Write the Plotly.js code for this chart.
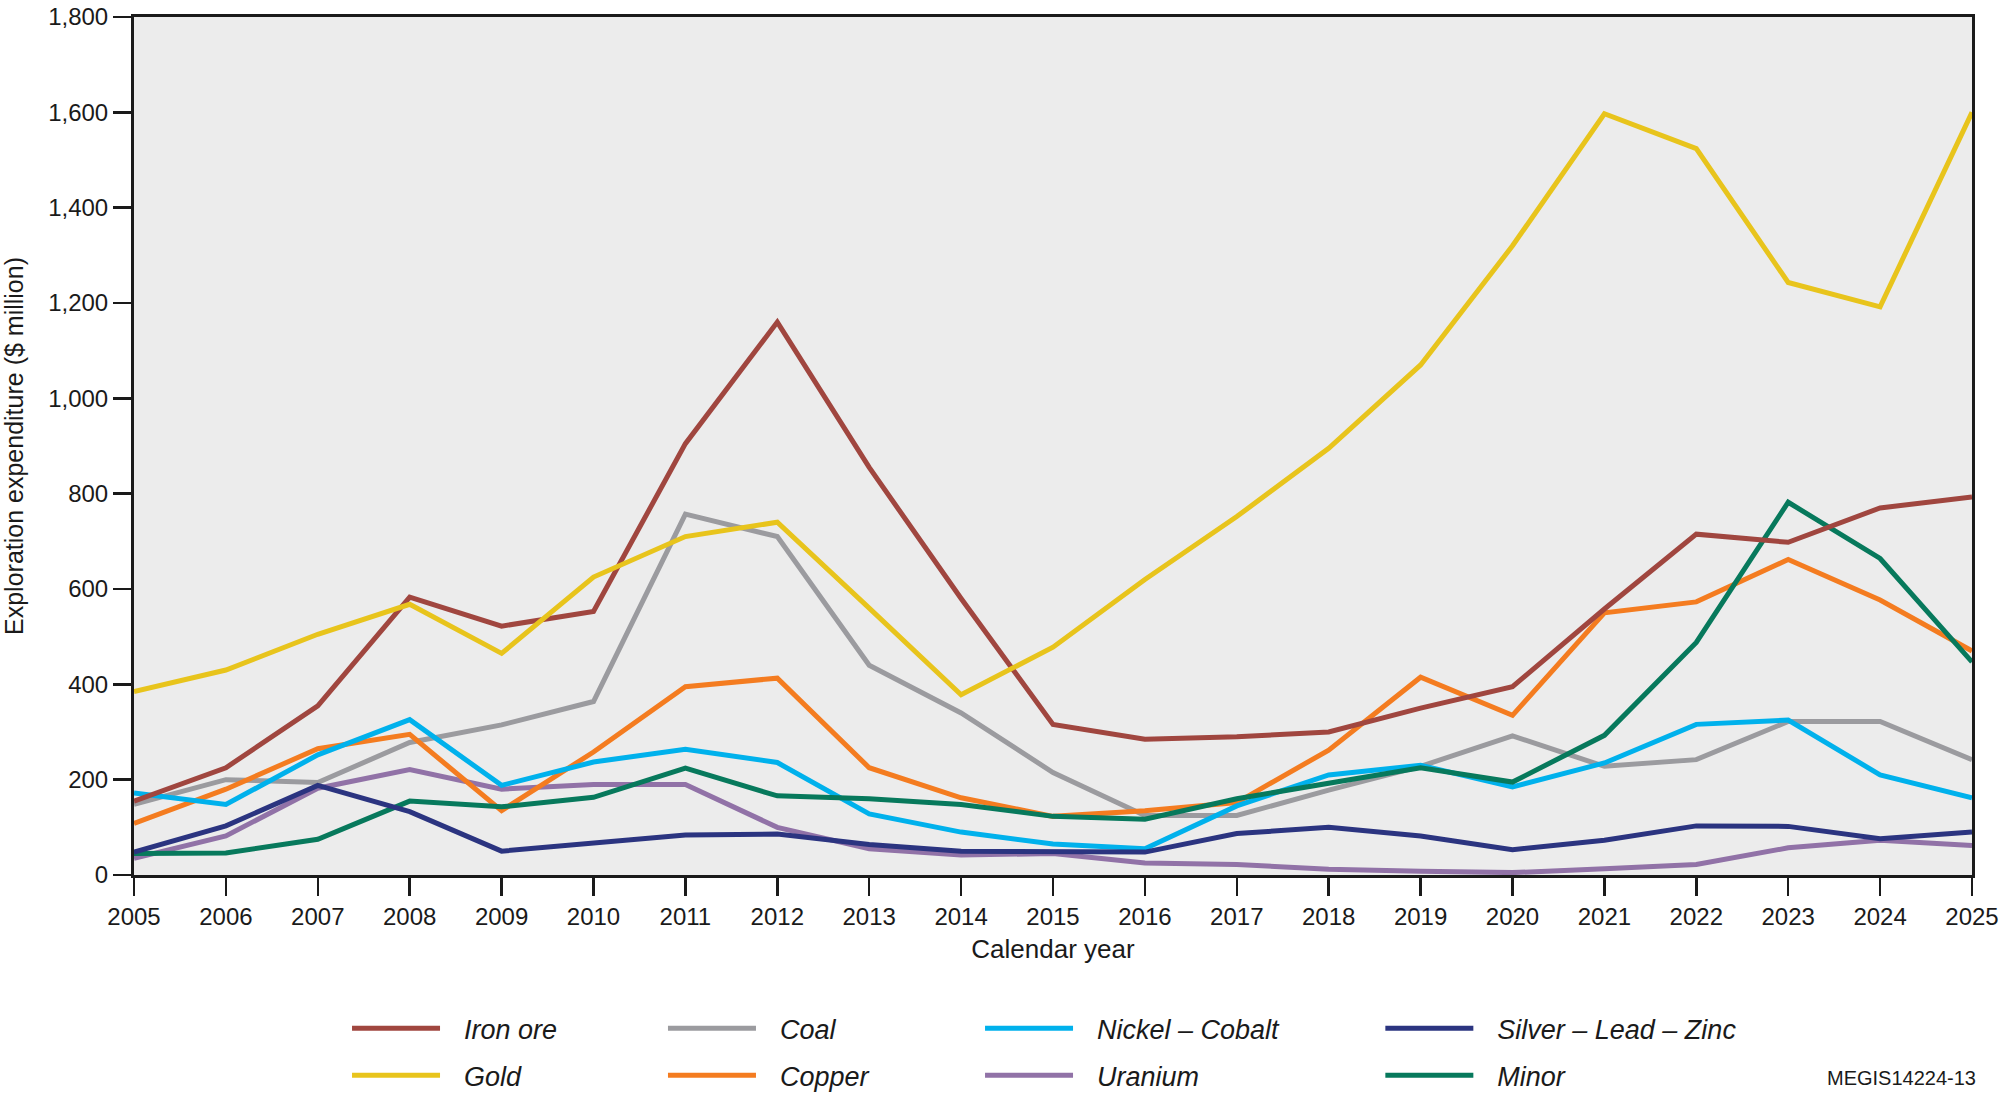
<!DOCTYPE html>
<html>
<head>
<meta charset="utf-8">
<script src="https://cdn.plot.ly/plotly-3.0.1.min.js"></script>
<style>html,body{margin:0;padding:0;background:#fff}#chart{width:2000px;height:1112px}</style>
</head>
<body>
<div id="chart"></div>
<script>
const years = [2005,2006,2007,2008,2009,2010,2011,2012,2013,2014,2015,2016,2017,2018,2019,2020,2021,2022,2023,2024,2025];

const ironOre = [155,225,355,583,522,553,905,1160,855,580,316,285,290,300,350,395,558,715,698,770,793];
const gold    = [385,430,505,568,465,625,710,740,560,378,478,620,752,895,1070,1320,1597,1524,1243,1192,1600];
const coal    = [148,200,194,278,315,364,757,710,440,340,215,125,125,178,228,292,228,242,322,322,242];
const copper  = [108,180,265,295,135,258,395,413,225,162,123,135,152,262,415,335,550,573,662,577,470];
const nickelCobalt = [172,148,252,326,188,237,264,236,128,90,65,55,145,210,230,185,235,316,325,210,162];
const uranium = [35,82,182,221,180,190,190,100,55,42,45,25,22,12,8,5,13,22,57,73,62];
const silverLeadZinc = [48,103,188,133,50,68,84,86,64,50,50,48,87,100,82,53,73,103,102,76,90];
const minor   = [45,46,75,155,143,163,224,166,160,148,123,117,160,193,225,195,293,488,782,664,447];

const seriesNames = ["Iron ore","Gold","Coal","Copper","Nickel \u2013 Cobalt","Uranium","Silver \u2013 Lead \u2013 Zinc","Minor"];
const yTickVals = [0,200,400,600,800,1000,1200,1400,1600,1800];
const xTickVals = years;

const colors = {
  "Iron ore":"#a0463f",
  "Gold":"#e8c41c",
  "Coal":"#9b9b9f",
  "Copper":"#f47c20",
  "Nickel \u2013 Cobalt":"#00b1ec",
  "Uranium":"#9172a7",
  "Silver \u2013 Lead \u2013 Zinc":"#2b3480",
  "Minor":"#07795c"
};
const dataMap = {
  "Iron ore":ironOre,"Gold":gold,"Coal":coal,"Copper":copper,
  "Nickel \u2013 Cobalt":nickelCobalt,"Uranium":uranium,
  "Silver \u2013 Lead \u2013 Zinc":silverLeadZinc,"Minor":minor
};
const legendOf = {
  "Iron ore":"legend","Gold":"legend2","Coal":"legend3","Copper":"legend4",
  "Nickel \u2013 Cobalt":"legend5","Uranium":"legend6",
  "Silver \u2013 Lead \u2013 Zinc":"legend7","Minor":"legend8"
};
const drawOrder = ["Uranium","Coal","Copper","Nickel \u2013 Cobalt","Minor","Silver \u2013 Lead \u2013 Zinc","Iron ore","Gold"];
const gap = "\u2002\u2009";

const traces = drawOrder.map(n => ({
  type:'scatter', mode:'lines', x:years, y:dataMap[n], name:gap + n,
  line:{color:colors[n], width:5}, legend:legendOf[n], hoverinfo:'skip'
}));

const legFont = {family:'Liberation Sans, Arial, sans-serif', size:27, color:'#1a1a1a', style:'italic'};
function leg(x,y){ return {x:x,y:y,xanchor:'left',yanchor:'middle',orientation:'v',font:legFont,itemwidth:88,bgcolor:'rgba(0,0,0,0)',borderwidth:0}; }
const colX = [0.1159,0.2878,0.4603,0.6781];
const rowY = [-0.179,-0.234];

const tickFont = {family:'Liberation Sans Narrow, Arial Narrow, sans-serif', size:24, color:'#1a1a1a'};

const layout = {
  width:2000, height:1112,
  margin:{l:134,r:28,t:17,b:221},
  paper_bgcolor:'#ffffff', plot_bgcolor:'#ececec',
  showlegend:true,
  xaxis:{
    range:[2005,2025], tickvals:xTickVals, ticktext:xTickVals.map(String),
    ticks:'outside', ticklen:18, tickwidth:2.5, tickcolor:'#1a1a1a',
    showline:true, linewidth:3, linecolor:'#1a1a1a', mirror:true,
    showgrid:false, zeroline:false, tickfont:tickFont, automargin:false,
    title:{text:'Calendar year', font:{family:'Liberation Sans Narrow, Arial Narrow, sans-serif', size:26, color:'#1a1a1a'}, standoff:12}
  },
  yaxis:{
    range:[0,1800], tickvals:yTickVals, tickformat:',d',
    ticks:'outside', ticklen:18, tickwidth:2.5, tickcolor:'#1a1a1a',
    showline:true, linewidth:3, linecolor:'#1a1a1a', mirror:true,
    showgrid:false, zeroline:false, tickfont:tickFont, automargin:false,
    title:{text:'Exploration expenditure ($ million)', font:{family:'Liberation Sans Narrow, Arial Narrow, sans-serif', size:25, color:'#1a1a1a'}, standoff:22}
  },
  legend:leg(colX[0],rowY[0]), legend2:leg(colX[0],rowY[1]),
  legend3:leg(colX[1],rowY[0]), legend4:leg(colX[1],rowY[1]),
  legend5:leg(colX[2],rowY[0]), legend6:leg(colX[2],rowY[1]),
  legend7:leg(colX[3],rowY[0]), legend8:leg(colX[3],rowY[1]),
  annotations:[{
    text:'MEGIS14224-13', xref:'paper', yref:'paper', x:1.0033, y:-0.237,
    xanchor:'right', yanchor:'middle', showarrow:false,
    font:{family:'Liberation Sans, Arial, sans-serif', size:20, color:'#1a1a1a'}
  }]
};

Plotly.newPlot('chart', traces, layout, {staticPlot:true, displayModeBar:false});
</script>
</body>
</html>
